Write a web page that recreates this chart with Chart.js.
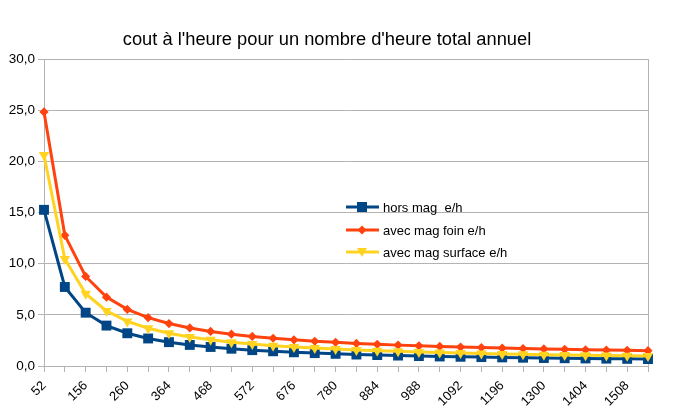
<!DOCTYPE html>
<html>
<head>
<meta charset="utf-8">
<script src="https://cdn.jsdelivr.net/npm/chart.js@4/dist/chart.umd.min.js"></script>
<style>
html,body{margin:0;padding:0;background:#fff;}
#wrap{width:675px;height:420px;position:relative;}
</style>
</head>
<body>
<div id="wrap"><canvas id="c" width="675" height="420"></canvas></div>
<script>
const titleText = "cout à l'heure pour un nombre d'heure total annuel";
const heures = [52,104,156,208,260,312,364,416,468,520,572,624,676,728,780,832,884,936,988,1040,1092,1144,1196,1248,1300,1352,1404,1456,1508,1560];
const horsMag = [15.26,7.72,5.21,3.95,3.20,2.69,2.33,2.06,1.86,1.69,1.55,1.44,1.34,1.26,1.19,1.12,1.07,1.02,0.97,0.93,0.90,0.87,0.84,0.81,0.78,0.76,0.74,0.72,0.70,0.68];
const avecMagFoin = [24.83,12.77,8.75,6.73,5.53,4.72,4.15,3.72,3.38,3.11,2.89,2.71,2.56,2.42,2.31,2.21,2.12,2.04,1.97,1.91,1.85,1.80,1.75,1.71,1.67,1.63,1.59,1.56,1.53,1.50];
const avecMagSurface = [20.61,10.45,7.07,5.38,4.36,3.69,3.20,2.84,2.56,2.33,2.15,1.99,1.86,1.75,1.65,1.57,1.49,1.43,1.37,1.32,1.27,1.22,1.18,1.15,1.11,1.08,1.05,1.03,1.00,0.98];
const seriesNames = ["hors mag  e/h","avec mag foin e/h","avec mag surface e/h"];

const FONT = "'Liberation Sans', Arial, sans-serif";
const BLUE = "#004586", ORANGE = "#ff420e", YELLOW = "#ffd320";

function drawMarker(ctx, style, x, y, color){
  ctx.save();
  ctx.fillStyle = color;
  ctx.beginPath();
  if(style==='rect'){
    ctx.rect(x-5, y-5, 10, 10);
  } else if(style==='diamond'){
    ctx.moveTo(x, y-4.5); ctx.lineTo(x+4.5, y); ctx.lineTo(x, y+4.5); ctx.lineTo(x-4.5, y);
    ctx.closePath();
  } else {
    ctx.moveTo(x-5, y-4); ctx.lineTo(x+5, y-4); ctx.lineTo(x, y+5);
    ctx.closePath();
  }
  ctx.fill();
  ctx.restore();
}

const extras = {
  id: 'extras',
  beforeDatasetsDraw(chart){
    const ctx = chart.ctx, a = chart.chartArea;
    ctx.save();
    ctx.strokeStyle = '#b3b3b3';
    ctx.lineWidth = 1;
    ctx.beginPath();
    ctx.moveTo(Math.round(a.right)+0.5, a.top);
    ctx.lineTo(Math.round(a.right)+0.5, a.bottom);
    ctx.stroke();
    ctx.restore();
  },
  afterDraw(chart){
    const ctx = chart.ctx;
    ctx.save();
    ctx.fillStyle = '#000';
    ctx.font = "18.3px " + FONT;
    ctx.textAlign = 'center';
    ctx.textBaseline = 'alphabetic';
    ctx.fillText(titleText, 327, 45);
    const rows = [207, 230, 252];
    const cols = [BLUE, ORANGE, YELLOW];
    const styles = ['rect','diamond','tri'];
    ctx.font = "13px " + FONT;
    ctx.textAlign = 'left';
    ctx.textBaseline = 'middle';
    for(let i=0;i<3;i++){
      ctx.strokeStyle = cols[i];
      ctx.lineWidth = 3;
      ctx.beginPath();
      ctx.moveTo(346, rows[i]); ctx.lineTo(379, rows[i]);
      ctx.stroke();
      drawMarker(ctx, styles[i], 362, rows[i], cols[i]);
      ctx.fillStyle = '#000';
      ctx.fillText(seriesNames[i], 383, rows[i]+1);
    }
    ctx.restore();
  }
};

new Chart(document.getElementById('c'), {
  type: 'line',
  data: {
    labels: heures.map(String),
    datasets: [
      {label: seriesNames[0], data: horsMag, borderColor: BLUE, backgroundColor: BLUE, borderWidth: 3,
       pointStyle: 'rect', pointRadius: 7, pointBorderWidth: 0, order: 3, tension: 0},
      {label: seriesNames[1], data: avecMagFoin, borderColor: ORANGE, backgroundColor: ORANGE, borderWidth: 3,
       pointStyle: 'rectRot', pointRadius: 4.6, pointBorderWidth: 0, order: 2, tension: 0},
      {label: seriesNames[2], data: avecMagSurface, borderColor: YELLOW, backgroundColor: YELLOW, borderWidth: 3,
       pointStyle: 'triangle', pointRotation: 180, pointRadius: 6, pointBorderWidth: 0, order: 1, tension: 0}
    ]
  },
  options: {
    responsive: false,
    animation: false,
    devicePixelRatio: 1,
    layout: {padding: {top: 59, right: 27, left: 0, bottom: 0}},
    plugins: {legend: {display: false}, title: {display: false}, tooltip: {enabled: false}},
    scales: {
      x: {
        type: 'category',
        offset: false,
        grid: {display: true, drawOnChartArea: false, drawTicks: true, tickLength: 6, color: '#b3b3b3'},
        border: {display: true, color: '#b3b3b3'},
        ticks: {
          autoSkip: false, maxRotation: 45, minRotation: 45, color: '#000',
          font: {family: FONT, size: 13}, padding: 6,
          callback: function(v, i){ return i % 2 === 0 ? this.getLabelForValue(v) : ''; }
        },
        afterFit(s){ s.height = 54; }
      },
      y: {
        min: 0, max: 30,
        grid: {color: '#b3b3b3', tickLength: 6},
        border: {display: true, color: '#b3b3b3'},
        ticks: {stepSize: 5, color: '#000', padding: 3, font: {family: FONT, size: 13.5},
          callback: v => v.toFixed(1).replace('.', ',')},
        afterFit(s){ s.width = 44; }
      }
    }
  },
  plugins: [extras]
});
</script>
</body>
</html>
